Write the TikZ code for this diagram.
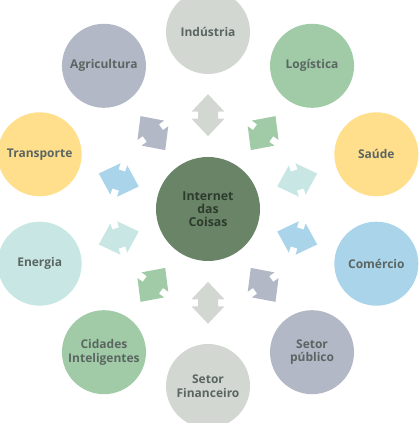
\documentclass[tikz,border=0pt]{standalone}
\usepackage{fontspec}
\setmainfont{Open Sans}
\usetikzlibrary{calc}
\definecolor{cgrey}{HTML}{D2D7D1}
\definecolor{cgreen}{HTML}{A0CBA6}
\definecolor{cyellow}{HTML}{FFDF8C}
\definecolor{cblue}{HTML}{A9D4EA}
\definecolor{cslate}{HTML}{B2B8C6}
\definecolor{cteal}{HTML}{C8E7E4}
\definecolor{ccenter}{HTML}{6A8467}
\definecolor{tout}{HTML}{5B6662}
\definecolor{tin}{HTML}{2D3B2C}
\tikzset{
  outer/.style={circle, minimum size=84pt, inner sep=0pt, align=center,
    text=tout, font=\fontsize{12}{13.5}\selectfont\bfseries},
  hub/.style={circle, minimum size=104pt, inner sep=0pt, align=center,
    fill=ccenter, text=tin, font=\fontsize{12.3}{13}\selectfont\bfseries},
  dblarrow/.pic={\fill (-21,0) -- (-3.5,16.5) -- (-3.5,10) -- (3.5,10) -- (3.5,16.5) -- (21,0)
      -- (3.5,-16.5) -- (3.5,-10) -- (-3.5,-10) -- (-3.5,-16.5) -- cycle;}
}
\begin{document}
\begin{tikzpicture}[x=1pt,y=1pt]
\useasboundingbox (0,0) rectangle (418,423);
\node[hub] (c) at (208,214) {Internet\\das\\Coisas};
\foreach \i/\nm/\txt/\cc/\ac in {
  0/ind/{Indústria}/cgrey/cgrey,
  1/log/{Logística}/cgreen/cgreen,
  2/sau/{Saúde}/cyellow/cteal,
  3/com/{Comércio}/cblue/cblue,
  4/pub/{Setor\\público}/cslate/cslate,
  5/fin/{Setor\\Financeiro}/cgrey/cgrey,
  6/cid/{Cidades\\Inteligentes}/cgreen/cgreen,
  7/ene/{Energia}/cteal/cteal,
  8/tra/{Transporte}/cyellow/cblue,
  9/agr/{Agricultura}/cslate/cslate}{
  \pgfmathsetmacro\ang{90-36*\i}
  \node[outer, fill=\cc] (\nm) at ($(c)+(\ang:177)$) {\txt};
  \pic[rotate=\ang, fill=\ac] at ($(c)!0.53!(\nm)$) {dblarrow};
}
\end{tikzpicture}
\end{document}
